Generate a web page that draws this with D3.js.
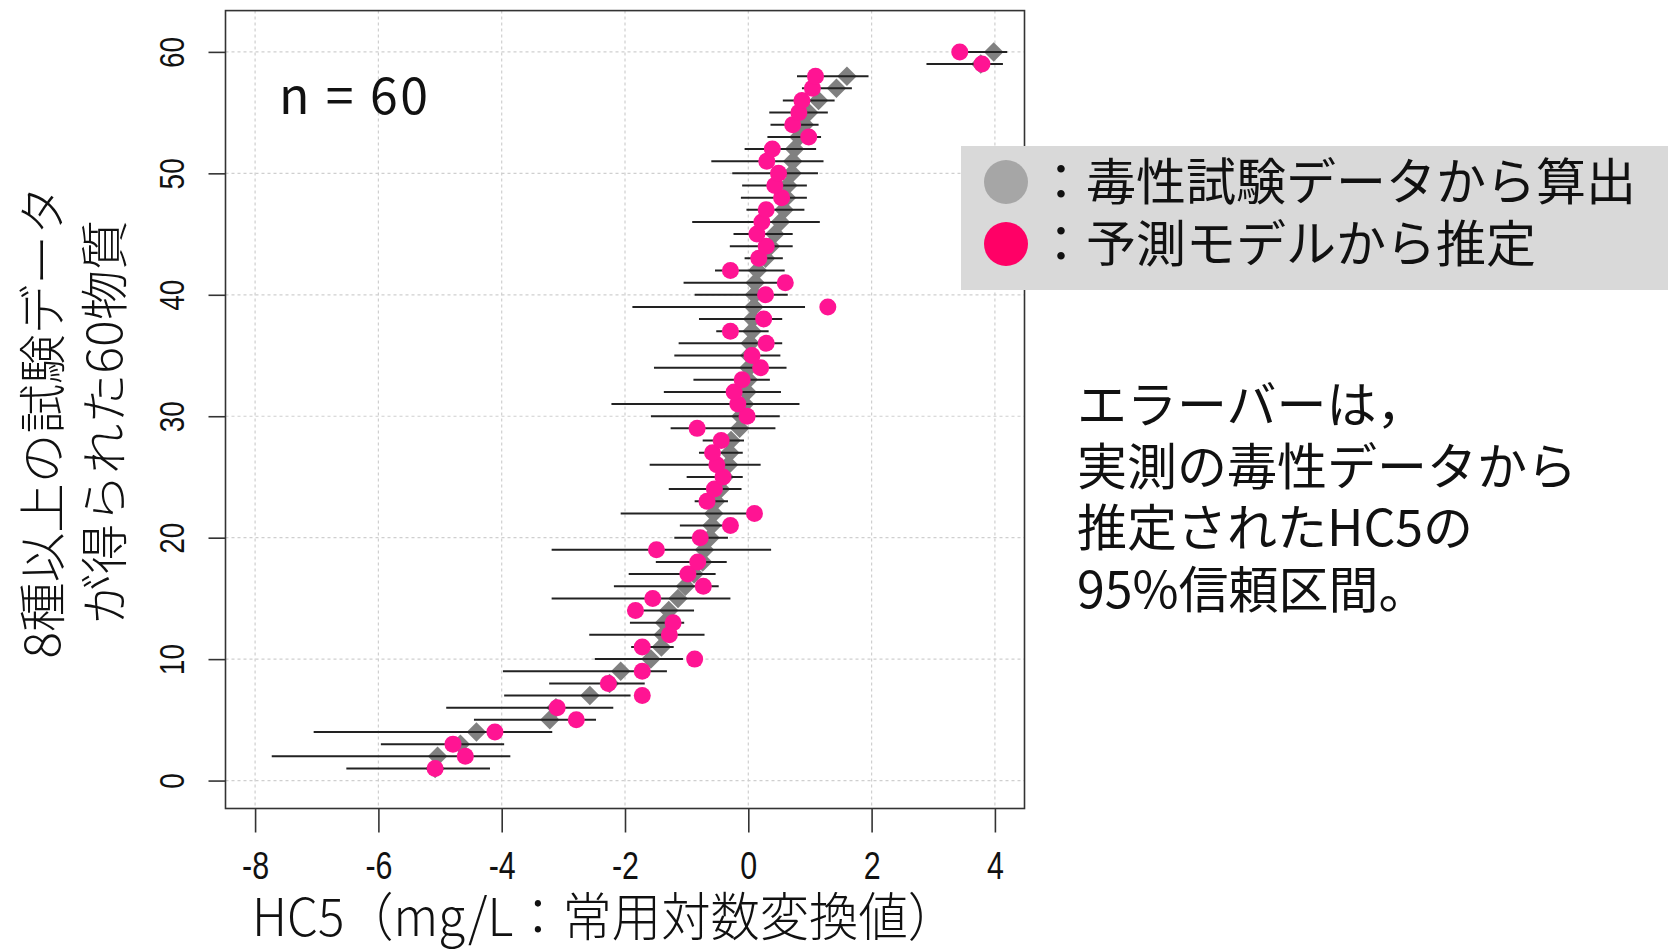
<!DOCTYPE html>
<html>
<head>
<meta charset="utf-8">
<script src="https://cdn.jsdelivr.net/npm/d3@7"></script>
<style>
  html, body { margin: 0; padding: 0; background: #fff; }
  svg { display: block; }
</style>
</head>
<body>
<svg id="chart" width="1668" height="949"></svg>
<script>
// Rank of each substance (1 = lowest HC5 from toxicity tests)
const rank = d3.range(1, 61);

// HC5 derived from measured toxicity data (log10 mg/L)
const hc5Observed = [
  -5.08, -5.04, -4.67, -4.41, -3.22, -3.12, -2.57, -2.25, -2.07, -1.58,
  -1.41, -1.38, -1.36, -1.29, -1.14, -1.02, -0.88, -0.74, -0.71, -0.62,
  -0.59, -0.56, -0.53, -0.45, -0.39, -0.32, -0.30, -0.28, -0.14, -0.12,
  -0.06, -0.02,  0.00,  0.01,  0.02,  0.03,  0.06,  0.07,  0.09,  0.10,
   0.11,  0.15,  0.28,  0.36,  0.43,  0.52,  0.58,  0.62,  0.64,  0.71,
   0.72,  0.75,  0.82,  0.91,  0.98,  1.14,  1.43,  1.60,  3.77,  3.98
];

// HC5 estimated by the prediction model (log10 mg/L)
const hc5Predicted = [
  -5.08, -4.59, -4.79, -4.11, -2.79, -3.10, -1.72, -2.27, -1.72, -0.87,
  -1.72, -1.28, -1.22, -1.83, -1.55, -0.73, -0.98, -0.82, -1.49, -0.78,
  -0.29,  0.10, -0.67, -0.55, -0.41, -0.51, -0.58, -0.44, -0.83, -0.02,
  -0.17, -0.23, -0.10,  0.20,  0.06,  0.29, -0.29,  0.25,  1.29,  0.28,
   0.60, -0.29,  0.17,  0.29,  0.14,  0.22,  0.29,  0.54,  0.43,  0.49,
   0.30,  0.39,  0.98,  0.72,  0.82,  0.87,  1.04,  1.09,  3.79,  3.43
];

// 95% confidence interval of the measured-data HC5
const ciLower = [
  -6.52, -7.73, -5.96, -7.05, -4.45, -4.90, -3.96, -3.23, -3.98, -2.49,
  -1.90, -2.58, -1.92, -1.96, -3.19, -2.18, -1.94, -1.50, -3.19, -1.20,
  -1.11, -2.07, -0.87, -1.29, -1.00, -1.60, -0.80, -0.74, -1.26, -1.58,
  -2.22, -1.37, -0.89, -1.53, -1.20, -1.13, -0.52, -0.80, -1.88, -0.87,
  -1.05, -0.54, -0.06, -0.30, -0.24, -0.91, -0.03, -0.12, -0.10, -0.26,
  -0.60, -0.06,  0.31,  0.36,  0.34,  0.56,  0.87,  0.79,  2.89,  3.43
];
const ciUpper = [
  -4.19, -3.86, -3.96, -3.18, -2.47, -2.19, -1.91, -1.68, -1.32, -1.06,
  -1.21, -0.71, -1.04, -0.88, -0.29, -0.48, -0.53, -0.35,  0.37, -0.33,
  -0.33,  0.20, -0.33, -0.11, -0.09,  0.20, -0.09, -0.07,  0.44,  0.51,
   0.83,  0.53,  0.35,  0.62,  0.52,  0.55,  0.33,  0.55,  0.92,  0.64,
   0.49,  0.59,  0.56,  0.72,  0.72,  1.16,  0.91,  0.95,  0.95,  1.13,
   1.22,  1.10,  1.18,  1.14,  1.29,  1.40,  1.68,  1.95,  4.13,  4.20
];

const xTicks = [-8, -6, -4, -2, 0, 2, 4];
const yTicks = [0, 10, 20, 30, 40, 50, 60];

const xTitle = "HC5（mg/L：常用対数変換値）";
const yTitleLines = ["8種以上の試験データ", "が得られた60物質"];
const countLabel = "n = 60";
const legendLabels = ["：毒性試験データから算出", "：予測モデルから推定"];
const noteLines = ["エラーバーは，", "実測の毒性データから", "推定されたHC5の", "95%信頼区間。"];

const rows = rank.map((r, i) => ({
  rank: r, obs: hc5Observed[i], pred: hc5Predicted[i], lo: ciLower[i], hi: ciUpper[i]
}));

const svg = d3.select("#chart");
const plot = { left: 225.5, right: 1024.5, top: 10.6, bottom: 808.5 };

const x = d3.scaleLinear().domain([-8.48, 4.48]).range([plot.left, plot.right]);
const y = d3.scaleLinear().domain([-2.3, 63.4]).range([plot.bottom, plot.top]);

const numFont = "'Liberation Sans', Arial, sans-serif";
const jpFont = "'Noto Sans CJK JP', 'Noto Sans', sans-serif";
const pink = "#ff1493";
const grey = "#808080";

// narrow the glyphs of a text selection to a fraction of their natural width
function condense(sel, factor) {
  sel.each(function () {
    const w = this.getComputedTextLength();
    d3.select(this).attr("textLength", w * factor).attr("lengthAdjust", "spacingAndGlyphs");
  });
}

svg.append("rect").attr("width", 1668).attr("height", 949).attr("fill", "#fff");

// dotted grid
const grid = svg.append("g").attr("stroke", "#cfcfcf").attr("stroke-width", 1.2)
  .attr("stroke-dasharray", "3,3");
grid.selectAll("line.vx").data(xTicks).join("line")
  .attr("x1", d => x(d)).attr("x2", d => x(d))
  .attr("y1", plot.top).attr("y2", plot.bottom);
grid.selectAll("line.hy").data(yTicks).join("line")
  .attr("x1", plot.left).attr("x2", plot.right)
  .attr("y1", d => y(d)).attr("y2", d => y(d));

// measured-data HC5: grey diamonds
const diamond = d3.symbol().type(d3.symbolSquare).size(190);
svg.append("g").selectAll("path").data(rows).join("path")
  .attr("d", diamond)
  .attr("transform", d => `translate(${x(d.obs)},${y(d.rank)}) rotate(45)`)
  .attr("fill", grey);

// 95% CI error bars
svg.append("g").attr("stroke", "#222").attr("stroke-width", 2)
  .selectAll("line").data(rows).join("line")
  .attr("x1", d => x(d.lo)).attr("x2", d => x(d.hi))
  .attr("y1", d => y(d.rank)).attr("y2", d => y(d.rank));

// model-predicted HC5: pink circles
svg.append("g").selectAll("circle").data(rows).join("circle")
  .attr("cx", d => x(d.pred)).attr("cy", d => y(d.rank)).attr("r", 8.5)
  .attr("fill", pink);

// plot frame
svg.append("rect")
  .attr("x", plot.left).attr("y", plot.top)
  .attr("width", plot.right - plot.left).attr("height", plot.bottom - plot.top)
  .attr("fill", "none").attr("stroke", "#333").attr("stroke-width", 1.6);

// x axis
const xAxis = svg.append("g").attr("transform", `translate(0,${plot.bottom})`)
  .call(d3.axisBottom(x).tickValues(xTicks).tickSize(24).tickPadding(0).tickFormat(d3.format("d")));
xAxis.select(".domain").remove();
xAxis.selectAll(".tick line").attr("stroke", "#333").attr("stroke-width", 1.6);
xAxis.selectAll(".tick text")
  .attr("y", 70).attr("dy", null)
  .attr("font-family", numFont).attr("font-size", 38).attr("fill", "#111")
  .text(d => d < 0 ? "-" + Math.abs(d) : String(d))
  .call(condense, 0.8);

// y axis
const yAxis = svg.append("g").attr("transform", `translate(${plot.left},0)`)
  .call(d3.axisLeft(y).tickValues(yTicks).tickSize(17).tickPadding(0).tickFormat(d3.format("d")));
yAxis.select(".domain").remove();
yAxis.selectAll(".tick line").attr("stroke", "#333").attr("stroke-width", 1.6);
yAxis.selectAll(".tick text")
  .attr("x", 0).attr("y", 0).attr("dy", null).attr("text-anchor", "middle")
  .attr("transform", "translate(-42,0) rotate(-90)")
  .attr("font-family", numFont).attr("font-size", 35).attr("fill", "#111")
  .call(condense, 0.8);

// sample size
svg.append("text").attr("x", 279).attr("y", 114)
  .attr("font-family", jpFont).attr("font-size", 50).attr("fill", "#111")
  .attr("textLength", 149).attr("lengthAdjust", "spacing")
  .text(countLabel);

// x title
svg.append("text").attr("x", 252).attr("y", 936)
  .attr("font-family", jpFont).attr("font-size", 52).attr("font-weight", 300)
  .attr("textLength", 705).attr("lengthAdjust", "spacingAndGlyphs")
  .attr("fill", "#111").text(xTitle);

// y title (two rotated lines)
const yTitlePos = [{ cx: 60, len: 473 }, { cx: 122, len: 404 }];
svg.append("g").selectAll("text").data(yTitleLines).join("text")
  .attr("transform", (d, i) => `translate(${yTitlePos[i].cx},422) rotate(-90)`)
  .attr("text-anchor", "middle")
  .attr("font-family", jpFont).attr("font-size", 48).attr("font-weight", 300)
  .attr("textLength", (d, i) => yTitlePos[i].len).attr("lengthAdjust", "spacingAndGlyphs")
  .attr("fill", "#111").text(d => d);

// legend
const legend = svg.append("g");
legend.append("rect").attr("x", 961).attr("y", 146).attr("width", 707).attr("height", 144)
  .attr("fill", "#d9d9d9");
const legendColors = ["#a6a6a6", "#ff0066"];
legend.selectAll("circle").data(legendLabels).join("circle")
  .attr("cx", 1006).attr("cy", (d, i) => 182 + i * 62).attr("r", 22)
  .attr("fill", (d, i) => legendColors[i]);
legend.selectAll("text").data(legendLabels).join("text")
  .attr("x", 1036).attr("y", (d, i) => 200 + i * 62)
  .attr("font-family", jpFont).attr("font-size", 50).attr("fill", "#111")
  .text(d => d);

// note about error bars
svg.append("g").selectAll("text").data(noteLines).join("text")
  .attr("x", 1077).attr("y", (d, i) => 423 + i * 61.5)
  .attr("font-family", jpFont).attr("font-size", 50).attr("fill", "#111")
  .text(d => d);
</script>
</body>
</html>
